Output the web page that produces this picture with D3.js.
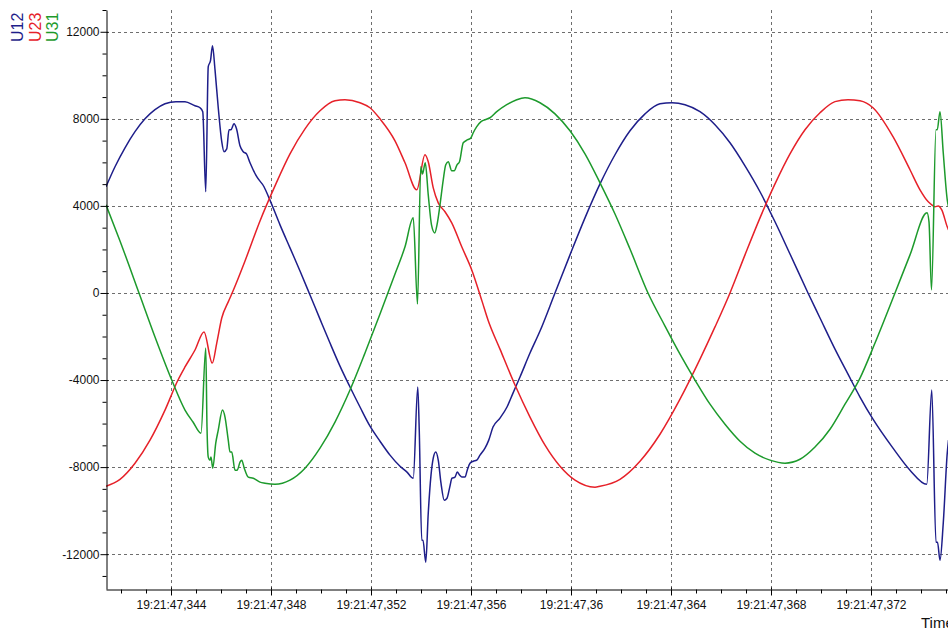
<!DOCTYPE html>
<html><head><meta charset="utf-8">
<script src="https://cdn.jsdelivr.net/npm/d3@7"></script>
<style>html,body{margin:0;padding:0;background:#fff;overflow:hidden}</style>
</head><body><svg id="c" width="948" height="629"></svg>
<script>
const seriesNames = ["U12", "U23", "U31"];
const seriesColors = ["#1e1e8a", "#e62129", "#1d9a2c"];
const xMajorTicks = [344, 348, 352, 356, 360, 364, 368, 372];
const xTickLabels = ["19:21:47,344", "19:21:47,348", "19:21:47,352", "19:21:47,356", "19:21:47,36", "19:21:47,364", "19:21:47,368", "19:21:47,372"];
const yMajorTicks = [-12000, -8000, -4000, 0, 4000, 8000, 12000];
const yTickLabels = ["-12000", "-8000", "-4000", "0", "4000", "8000", "12000"];
const xAxisTitle = "Time";

// [time in ms after 19:21:47, voltage]
const u12 = [
[341.40,4880],[341.76,5800],[342.16,6670],[342.56,7410],[342.96,8000],[343.36,8420],[343.76,8690],[344.20,8790],[344.56,8790],[344.96,8600],[345.16,8510],[345.27,8330],[345.39,4650],[345.49,10400],[345.58,10670],[345.66,11360],[345.76,10260],[345.89,8510],[346.03,6950],[346.12,6490],[346.23,6620],[346.32,7500],[346.40,7500],[346.52,7770],[346.62,7540],[346.76,6760],[346.89,6490],[347.02,6390],[347.16,5980],[347.43,5340],[347.72,4880],[347.92,4370],[348.36,3130],[348.76,2070],[349.16,1010],[349.56,-90],[349.96,-1200],[350.36,-2300],[350.76,-3360],[351.16,-4320],[351.56,-5240],[351.96,-6120],[352.36,-6810],[352.76,-7450],[353.16,-7960],[353.44,-8230],[353.69,-8510],[353.87,-4320],[353.93,-6300],[354.03,-11360],[354.08,-11360],[354.19,-12370],[354.29,-10120],[354.40,-8370],[354.49,-7590],[354.59,-7310],[354.69,-7680],[354.80,-8740],[354.93,-9520],[355.04,-9430],[355.15,-8920],[355.24,-8510],[355.36,-8460],[355.45,-8230],[355.55,-8370],[355.65,-8460],[355.76,-8460],[355.85,-8140],[355.96,-7820],[356.09,-7730],[356.23,-7680],[356.36,-7450],[356.56,-7130],[356.71,-6760],[356.88,-6160],[357.16,-5750],[357.44,-5240],[357.68,-4600],[357.96,-3860],[358.36,-2760],[358.76,-1750],[359.36,0],[359.96,1750],[360.56,3450],[361.16,5010],[361.76,6350],[362.36,7450],[362.96,8230],[363.56,8690],[364.04,8740],[364.56,8650],[365.16,8330],[365.76,7730],[366.36,6900],[366.96,5840],[367.56,4650],[368.16,3270],[368.76,1790],[369.48,0],[369.96,-1150],[370.56,-2580],[371.08,-3730],[371.56,-4780],[372.08,-5800],[372.88,-7130],[373.56,-8140],[374.23,-8790],[374.43,-4460],[374.60,-11450],[374.66,-11450],[374.76,-12280],[374.89,-10580],[375.05,-7360],[375.10,-6760]
];
const u23 = [
[341.40,-8880],[341.96,-8560],[342.56,-7820],[343.16,-6760],[343.76,-5380],[344.28,-4000],[344.56,-3400],[344.96,-2620],[345.32,-1790],[345.65,-3220],[345.83,-2300],[346.03,-1150],[346.29,-410],[346.48,90],[346.96,1470],[347.56,3310],[348.16,4920],[348.76,6390],[349.36,7540],[349.96,8370],[350.56,8830],[350.96,8880],[351.56,8740],[351.96,8510],[352.36,8000],[352.96,6990],[353.36,5980],[353.83,4740],[354.16,6350],[354.29,6030],[354.49,4830],[354.69,4140],[354.96,3730],[355.23,3220],[355.63,2120],[356.03,1060],[356.45,-410],[356.68,-1240],[357.16,-2580],[357.76,-4230],[358.36,-5700],[358.96,-6990],[359.56,-7960],[360.16,-8600],[360.96,-8920],[361.16,-8880],[361.96,-8560],[362.76,-7730],[363.56,-6490],[364.36,-4880],[365.16,-3040],[365.76,-1560],[366.36,0],[366.96,1750],[367.56,3450],[368.16,5010],[368.76,6390],[369.36,7500],[369.96,8280],[370.56,8790],[371.08,8880],[371.56,8830],[372.08,8510],[372.88,7180],[373.56,5660],[373.96,4740],[374.29,4190],[374.43,4050],[374.56,3960],[374.69,4000],[374.83,3820],[375.05,3040],[375.10,2900]
];
const u31 = [
[341.40,4050],[341.96,2390],[342.72,0],[343.36,-2020],[344.03,-4000],[344.56,-5380],[344.88,-5930],[345.20,-6440],[345.39,-2530],[345.44,-6160],[345.49,-7540],[345.56,-7680],[345.60,-7540],[345.67,-8050],[345.79,-6900],[345.89,-6300],[346.06,-5380],[346.16,-5700],[346.29,-6760],[346.36,-7310],[346.43,-7310],[346.56,-8140],[346.65,-8140],[346.76,-7770],[346.83,-7680],[346.93,-8050],[347.09,-8460],[347.29,-8510],[347.56,-8690],[347.76,-8740],[348.16,-8790],[348.76,-8600],[349.36,-8050],[349.96,-7130],[350.56,-5930],[351.16,-4460],[351.76,-2760],[352.36,-970],[352.96,870],[353.36,2120],[353.69,3450],[353.86,-510],[353.99,5800],[354.06,5470],[354.17,5980],[354.29,4510],[354.42,3130],[354.55,2760],[354.64,3130],[354.76,4050],[354.89,5200],[354.99,5890],[355.09,6030],[355.23,5610],[355.33,5610],[355.44,5890],[355.54,6030],[355.69,6900],[355.87,7040],[356.00,7130],[356.09,7360],[356.23,7640],[356.40,7870],[356.56,7960],[356.76,8050],[357.03,8330],[357.43,8650],[357.83,8880],[358.16,8970],[358.76,8740],[359.36,8230],[359.96,7450],[360.56,6390],[361.16,5060],[361.76,3630],[362.36,2020],[363.08,0],[363.76,-1520],[364.36,-2810],[364.96,-4000],[365.56,-5110],[366.16,-6030],[366.76,-6810],[367.36,-7360],[367.96,-7680],[368.56,-7820],[369.16,-7640],[369.76,-7080],[370.36,-6260],[370.96,-5110],[371.56,-3910],[372.16,-2300],[372.96,0],[373.56,1750],[374.24,3680],[374.32,3270],[374.42,140],[374.60,7500],[374.65,7500],[374.76,8330],[374.89,6440],[375.05,4280],[375.10,3960]
];
const seriesData = [u12, u23, u31];

const svg = d3.select("#c");
const font = "'Liberation Sans', Arial, sans-serif";
const L = 106, R = 948, T = 10, B = 589;
const x = d3.scaleLinear().domain([341.4, 375.08]).range([L, R]);
const y = d3.scaleLinear().domain([-13600, 13000]).range([B, T]);

svg.append("defs").append("clipPath").attr("id", "clip")
  .append("rect").attr("x", L).attr("y", T).attr("width", R - L).attr("height", B - T);

// grid
const grid = svg.append("g").attr("stroke", "#6e6e6e").attr("stroke-width", 1).attr("stroke-dasharray", "3,3");
grid.selectAll(".gx").data(xMajorTicks).join("line")
  .attr("x1", d => Math.round(x(d)) + 0.5).attr("x2", d => Math.round(x(d)) + 0.5)
  .attr("y1", T).attr("y2", B);
grid.selectAll(".gy").data(yMajorTicks).join("line")
  .attr("y1", d => Math.round(y(d)) + 0.5).attr("y2", d => Math.round(y(d)) + 0.5)
  .attr("x1", L).attr("x2", R);

// lines
const line = d3.line().x(d => x(d[0])).y(d => y(d[1])).curve(d3.curveMonotoneX);
const lines = svg.append("g").attr("clip-path", "url(#clip)");
seriesData.forEach((s, i) => {
  lines.append("path").datum(s).attr("d", line)
    .attr("fill", "none").attr("stroke", seriesColors[i]).attr("stroke-width", 1.5)
    .attr("stroke-linejoin", "round");
});

// axes
const yMinor = d3.range(-13000, 13001, 1000).filter(v => !yMajorTicks.includes(v));
const xMinor = d3.range(342, 376, 1).filter(v => !xMajorTicks.includes(v) && v <= 375);

const gy = svg.append("g").attr("transform", `translate(${L + 0.5},0)`);
gy.call(d3.axisLeft(y).tickValues(yMajorTicks).tickFormat((d, i) => yTickLabels[i]).tickSizeInner(6).tickSizeOuter(0).tickPadding(1));
gy.append("g").call(d3.axisLeft(y).tickValues(yMinor).tickFormat("").tickSize(4)).select(".domain").remove();
gy.append("g").call(d3.axisRight(y).tickValues(yMajorTicks).tickFormat("").tickSize(2)).select(".domain").remove();

const gx = svg.append("g").attr("transform", `translate(0,${B + 0.5})`);
gx.call(d3.axisBottom(x).tickValues(xMajorTicks).tickFormat((d, i) => xTickLabels[i]).tickSizeInner(6).tickSizeOuter(0).tickPadding(5));
gx.append("g").call(d3.axisBottom(x).tickValues(xMinor).tickFormat("").tickSize(4)).select(".domain").remove();
gx.append("g").call(d3.axisTop(x).tickValues(xMajorTicks).tickFormat("").tickSize(2)).select(".domain").remove();

svg.selectAll(".tick text").attr("font-family", font).attr("font-size", 12).attr("fill", "#111");
svg.selectAll(".domain, .tick line").attr("stroke", "#000");

// axis title
svg.append("text").attr("x", 921).attr("y", 628).attr("font-family", font).attr("font-size", 15)
  .attr("fill", "#111").text(xAxisTitle);

// legend (rotated)
const legendX = [23, 41, 58];
seriesNames.forEach((n, i) => {
  svg.append("text").attr("transform", `translate(${legendX[i]},42) rotate(-90)`)
    .attr("font-family", font).attr("font-size", 16).attr("fill", seriesColors[i]).text(n);
});
</script>
</body></html>
